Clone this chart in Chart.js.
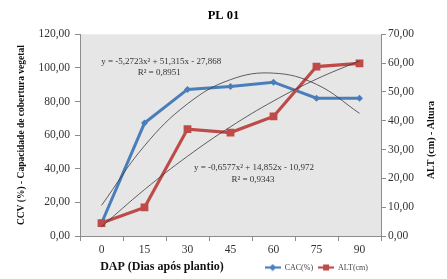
<!DOCTYPE html>
<html><head><meta charset="utf-8">
<script src="https://cdn.jsdelivr.net/npm/chart.js@4"></script>
<style>html,body{margin:0;padding:0;background:#fff}#wrap{width:447px;height:279px}</style>
</head><body><div id="wrap"><canvas id="c" width="447" height="279"></canvas></div>
<script>
const categories = ['0', '15', '30', '45', '60', '75', '90'];
const cacValues = [7.6, 67.2, 87.2, 89.0, 91.5, 82.0, 82.0];
const altValues = [4.5, 9.9, 37.1, 35.9, 41.5, 58.8, 59.9];
const cacTrendCoef = [-5.2723, 51.315, -27.868];
const altTrendCoef = [-0.6577, 14.852, -10.972];
const leftTicks = [0, 20, 40, 60, 80, 100, 120];
const rightTicks = [0, 10, 20, 30, 40, 50, 60, 70];
const seriesNames = ['CAC(%)', 'ALT(cm)'];
const cacEquation = ['y = -5,2723x² + 51,315x - 27,868', 'R² = 0,8951'];
const altEquation = ['y = -0,6577x² + 14,852x - 10,972', 'R² = 0,9343'];
const chartTitle = 'PL 01';
const xTitle = 'DAP (Dias após plantio)';
const leftTitle = 'CCV (%) - Capacidade de cobertura vegetal';
const rightTitle = 'ALT (cm) - Altura';

const BLUE = '#4a7ebb', RED = '#be4b48';
const SERIF = "'Liberation Serif', 'Times New Roman', serif";
const trend = (c) => categories.map((_, i) => c[0] * (i + 1) * (i + 1) + c[1] * (i + 1) + c[2]);
const fmt = (v) => Number(v).toFixed(2).replace('.', ',');

function legendIcon(color, style) {
  const c = document.createElement('canvas'); c.width = 16; c.height = 8;
  const g = c.getContext('2d');
  g.strokeStyle = color; g.lineWidth = 2.2;
  g.beginPath(); g.moveTo(0, 4); g.lineTo(16, 4); g.stroke();
  g.fillStyle = color;
  if (style === 'rect') { g.fillRect(5, 1, 6, 6); }
  else { g.beginPath(); g.moveTo(8, 0.5); g.lineTo(11.5, 4); g.lineTo(8, 7.5); g.lineTo(4.5, 4); g.closePath(); g.fill(); }
  return c;
}

const decor = {
  id: 'decor',
  beforeDraw(chart) {
    const { ctx, chartArea: a } = chart;
    ctx.save();
    ctx.fillStyle = '#ffffff'; ctx.fillRect(0, 0, chart.width, chart.height);
    ctx.fillStyle = '#e6e6e6'; ctx.fillRect(a.left, a.top, a.width, a.height);
    ctx.restore();
  },
  afterLayout(chart) {
    const lg = chart.legend; if (!lg) return;
    const h = lg.height;
    lg.left = 0; lg.right = 373; lg.top = 270 - h / 2; lg.bottom = lg.top + h;
  },
  afterDraw(chart) {
    const { ctx, chartArea: a } = chart;
    const px = (f) => a.left + f * a.width, py = (f) => a.top + f * a.height;
    ctx.save();
    ctx.fillStyle = '#333'; ctx.textAlign = 'center'; ctx.textBaseline = 'middle';
    ctx.font = '9px ' + SERIF;
    ctx.fillText(cacEquation[0], px(0.27), py(0.137));
    ctx.fillText(cacEquation[1], px(0.263), py(0.192));
    ctx.fillText(altEquation[0], px(0.578), py(0.663));
    ctx.fillText(altEquation[1], px(0.575), py(0.72));
    ctx.fillStyle = '#111';
    ctx.font = 'bold 12px ' + SERIF;
    ctx.fillText(xTitle, 162, 267);
    ctx.translate(431, 140); ctx.rotate(-Math.PI / 2);
    ctx.font = 'bold 10px ' + SERIF;
    ctx.fillText(rightTitle, 0, 0);
    ctx.restore();
  }
};

const tickFont = { family: SERIF, size: 11.5 };
new Chart(document.getElementById('c'), {
  type: 'line',
  data: {
    labels: categories,
    datasets: [
      { label: seriesNames[0], data: cacValues, yAxisID: 'y', borderColor: BLUE, backgroundColor: BLUE, borderWidth: 3,
        pointStyle: 'rectRot', pointRadius: 3.5, pointBorderWidth: 0, order: 2 },
      { label: seriesNames[1], data: altValues, yAxisID: 'y2', borderColor: RED, backgroundColor: RED, borderWidth: 3.2,
        pointStyle: 'rect', pointRadius: 5.5, pointBorderWidth: 0, order: 1 },
      { label: 'trendCAC', data: trend(cacTrendCoef), yAxisID: 'y', borderColor: '#3a3a3a', borderWidth: 0.8,
        pointRadius: 0, tension: 0.4, order: 0 },
      { label: 'trendALT', data: trend(altTrendCoef), yAxisID: 'y2', borderColor: '#3a3a3a', borderWidth: 0.8,
        pointRadius: 0, tension: 0.4, order: 0 }
    ]
  },
  options: {
    responsive: false, devicePixelRatio: 1, animation: false,
    layout: { padding: 0 },
    plugins: {
      tooltip: { enabled: false },
      title: { display: true, text: chartTitle, color: '#000',
        font: { family: SERIF, size: 12.5, weight: 'bold' }, padding: { top: 8, bottom: 11.3 } },
      legend: {
        display: true, position: 'bottom', align: 'end',
        labels: {
          usePointStyle: true, pointStyleWidth: 16, padding: 5, color: '#444',
          font: { family: SERIF, size: 8 },
          generateLabels: () => [
            { text: seriesNames[0], pointStyle: legendIcon(BLUE, 'rectRot'), fillStyle: BLUE, strokeStyle: BLUE, lineWidth: 0, hidden: false, datasetIndex: 0, fontColor: '#444' },
            { text: seriesNames[1], pointStyle: legendIcon(RED, 'rect'), fillStyle: RED, strokeStyle: RED, lineWidth: 0, hidden: false, datasetIndex: 1, fontColor: '#444' }
          ]
        }
      }
    },
    scales: {
      x: {
        offset: true,
        grid: { display: true, drawOnChartArea: false, offset: true, tickLength: 5, color: '#8c8c8c' },
        border: { color: '#8c8c8c' },
        ticks: { font: tickFont, color: '#333', padding: 2, maxRotation: 0 },
        afterFit: (s) => { s.height = 43 - (s.chart.legend ? s.chart.legend.height : 0); }
      },
      y: {
        position: 'left', min: 0, max: 120,
        afterBuildTicks: (s) => { s.ticks = leftTicks.map(v => ({ value: v })); },
        grid: { display: true, drawOnChartArea: false, tickLength: 5, color: '#8c8c8c' },
        border: { color: '#8c8c8c' },
        ticks: { font: tickFont, color: '#333', padding: 5, callback: (v) => fmt(v) },
        title: { display: true, text: leftTitle, color: '#111', font: { family: SERIF, size: 9.5, weight: 'bold' }, padding: { top: 16, bottom: 0 } },
        afterFit: (s) => { s.width = 80; }
      },
      y2: {
        position: 'right', min: 0, max: 70,
        afterBuildTicks: (s) => { s.ticks = rightTicks.map(v => ({ value: v })); },
        grid: { display: true, drawOnChartArea: false, tickLength: 5, color: '#8c8c8c' },
        border: { color: '#8c8c8c' },
        ticks: { font: tickFont, color: '#333', padding: 2, callback: (v) => fmt(v) },
        afterFit: (s) => { s.width = 66; }
      }
    }
  },
  plugins: [decor]
});
</script></body></html>
